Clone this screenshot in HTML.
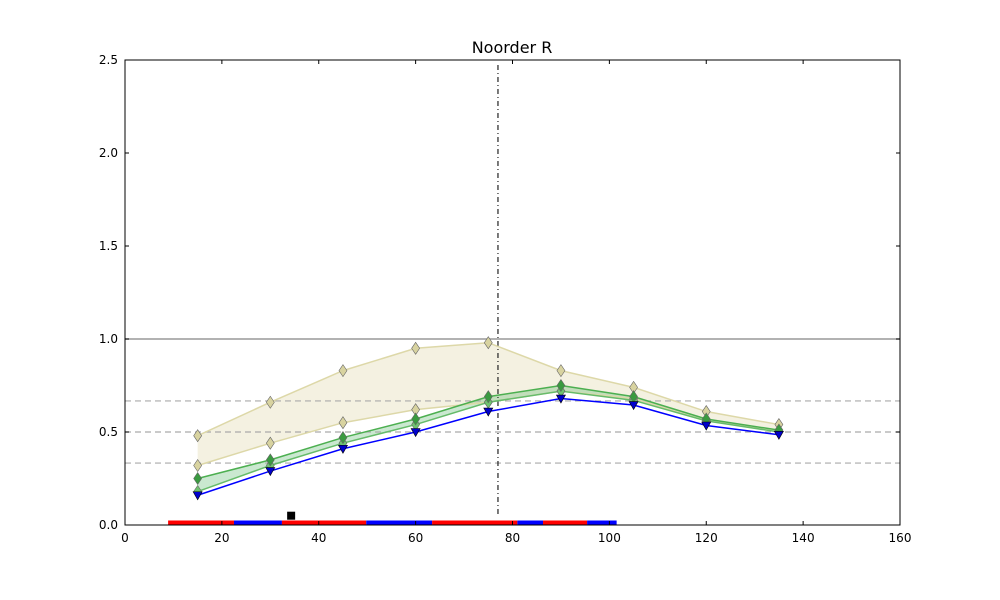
<!DOCTYPE html>
<html><head><meta charset="utf-8"><style>
body{margin:0;background:#fff;}
svg{display:block;font-family:"DejaVu Sans","Liberation Sans",sans-serif;}
</style></head><body>
<svg id="chart" width="1000" height="600" xmlns="http://www.w3.org/2000/svg"></svg>
<script>
const xs=[15,30,45,60,75,90,105,120,135];
const tanUpper=[0.48,0.66,0.83,0.95,0.98,0.83,0.74,0.61,0.54];
const tanLower=[0.32,0.44,0.55,0.62,0.66,0.72,0.68,0.56,0.51];
const greenUpper=[0.25,0.35,0.47,0.57,0.69,0.75,0.69,0.57,0.51];
const greenLower=[0.18,0.32,0.44,0.54,0.66,0.72,0.67,0.56,0.50];
const blueVals=[0.16,0.29,0.41,0.50,0.61,0.68,0.645,0.535,0.485];
const xTicks=[0,20,40,60,80,100,120,140,160];
const yTicks=[0,0.5,1.0,1.5,2.0,2.5];
const hLinesDashed=[0.667,0.5,0.333];
const hLineSolid=1.0;
const vLine=77;
const segStarts=[8.9,22.5,32.4,49.8,63.4,81,86.3,95.4];
const segEnds=[22.5,32.4,49.8,63.4,81,86.3,95.4,101.5];
const segColors=['red','blue','red','blue','red','blue','red','blue'];
const marker=[34.3,0.05];

const L=125,R=900,T=60,B=525;
const X=v=>L+(v-0)/160*(R-L);
const Y=v=>B-(v/2.5)*(B-T);
const svg=document.getElementById('chart');
const NS='http://www.w3.org/2000/svg';
function mk(tag,attrs,name,parent){const e=document.createElementNS(NS,tag);for(const k in attrs)e.setAttribute(k,attrs[k]);


(parent||svg).appendChild(e);return e;}
mk('rect',{x:L,y:T,width:R-L,height:B-T,fill:'#fff'},'plot-background');
function band(up,lo,fill,name){let d=xs.map((x,i)=>(i?'L':'M')+X(x)+','+Y(up[i])).join('');
for(let i=xs.length-1;i>=0;i--)d+='L'+X(xs[i])+','+Y(lo[i]);mk('path',{d:d+'Z',fill:fill,stroke:'none'},name);}
band(tanUpper,tanLower,'rgba(224,216,170,0.35)','tan-band');
band(greenUpper,greenLower,'rgba(80,180,100,0.3)','green-band');
mk('line',{x1:L,x2:R,y1:Y(hLineSolid),y2:Y(hLineSolid),stroke:'#999','stroke-width':1.5},'reference-line-1');
hLinesDashed.forEach(v=>{mk('line',{x1:L,x2:R,y1:Y(v),y2:Y(v),stroke:'#aaa','stroke-width':1.2,'stroke-dasharray':'6,4'},'dashed-reference-line');});
mk('line',{x1:X(vLine),x2:X(vLine),y1:T+5,y2:B-10,stroke:'#222','stroke-width':1.2,'stroke-dasharray':'5,3,1,3'},'vertical-marker-line');
function line(vals,color,name,w){mk('polyline',{points:xs.map((x,i)=>X(x)+','+Y(vals[i])).join(' '),fill:'none',stroke:color,'stroke-width':w},name);}
line(tanUpper,'#ddd8a8','tan-upper-line',1.5);
line(tanLower,'#ddd8a8','tan-lower-line',1.5);
line(greenUpper,'#4caf50','green-upper-line',1.5);
line(greenLower,'#66bb6a','green-lower-line',1.5);
line(blueVals,'#0000ff','blue-line',1.5);
function diamonds(vals,fill,name){vals.forEach((v,i)=>{const x=X(xs[i]),y=Y(v);
mk('path',{d:`M${x},${y-6}L${x+4},${y}L${x},${y+6}L${x-4},${y}Z`,fill:fill,stroke:'#666','stroke-width':0.6},name);});}
diamonds(tanUpper,'#d8d3a0','tan-upper-marker');
diamonds(tanLower,'#d8d3a0','tan-lower-marker');
diamonds(greenLower,'#6fc36f','green-lower-marker');
diamonds(greenUpper,'#3a9a40','green-upper-marker');
blueVals.forEach((v,i)=>{const x=X(xs[i]),y=Y(v);
mk('path',{d:`M${x-4.5},${y-3.5}L${x+4.5},${y-3.5}L${x},${y+4.5}Z`,fill:'#0000cc',stroke:'#000','stroke-width':0.6},'blue-marker');});
segStarts.forEach((s,i)=>{mk('rect',{x:X(s),y:B-4.5,width:X(segEnds[i])-X(s),height:4.5,fill:segColors[i]},'timeline-segment');});
mk('rect',{x:X(marker[0])-4,y:Y(marker[1])-4,width:8,height:8,fill:'#000'},'black-square-marker');
mk('rect',{x:L,y:T,width:R-L,height:B-T,fill:'none',stroke:'#000','stroke-width':1},'plot-frame');
xTicks.forEach(t=>{const x=X(t);
mk('line',{x1:x,x2:x,y1:B,y2:B-4,stroke:'#000'},'x-tick');
mk('line',{x1:x,x2:x,y1:T,y2:T+4,stroke:'#000'},'x-tick-top');
const e=mk('text',{x:x,y:B+17,'text-anchor':'middle','font-size':12},'x-tick-label');e.textContent=t;});
yTicks.forEach(t=>{const y=Y(t);
mk('line',{x1:L,x2:L+4,y1:y,y2:y,stroke:'#000'},'y-tick');
mk('line',{x1:R,x2:R-4,y1:y,y2:y,stroke:'#000'},'y-tick-right');
const e=mk('text',{x:L-7,y:y+4,'text-anchor':'end','font-size':12},'y-tick-label');e.textContent=t.toFixed(1);});
const ti=mk('text',{x:512,y:53,'text-anchor':'middle','font-size':16},'chart-title');ti.textContent='Noorder R';
</script>
</body></html>
